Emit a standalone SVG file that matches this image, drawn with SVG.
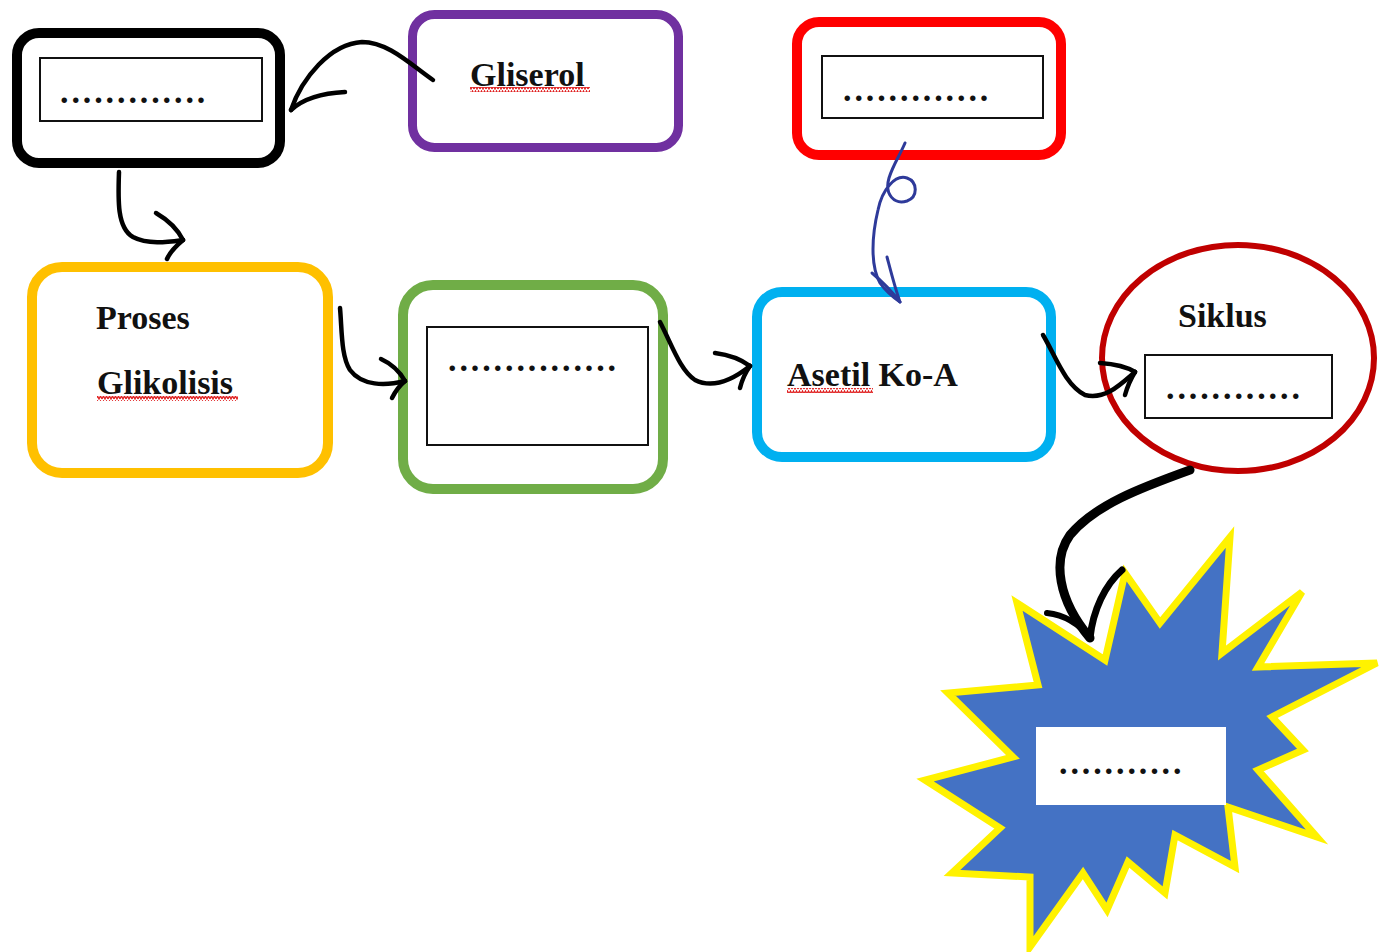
<svg xmlns="http://www.w3.org/2000/svg" width="1389" height="952" viewBox="0 0 1389 952">
<defs>
<pattern id="squig" width="6" height="5" patternUnits="userSpaceOnUse">
<path d="M0,4 L1.5,1 L3,4 L4.5,1 L6,4" fill="none" stroke="#E02020" stroke-width="1.3"/>
</pattern>
<style>
.box{fill:#fff}
.inner{fill:#fff;stroke:#111;stroke-width:2}
.lbl{font-family:"Liberation Serif","Times New Roman",serif;font-weight:bold;font-size:34px;fill:#111}
.dots{font-family:"Liberation Serif","Times New Roman",serif;font-weight:bold;font-size:34px;fill:#111;letter-spacing:2.9px}
.arr{fill:none;stroke:#000;stroke-width:4.5;stroke-linecap:round;stroke-linejoin:round}
</style>
</defs>
<rect width="1389" height="952" fill="#fff"/>

<g id="node-black">
<rect class="box" x="17" y="33" width="263" height="130" rx="22" stroke="#000" stroke-width="10"/>
<rect class="inner" x="40" y="58" width="222" height="63"/>
<text class="dots" x="60" y="103">.............</text>
</g>

<g id="node-gliserol">
<rect class="box" x="412.5" y="14.5" width="266" height="133" rx="22" stroke="#7030A0" stroke-width="9"/>
<text class="lbl" x="470" y="86">Gliserol</text>
<rect x="470" y="87" width="120" height="5" fill="url(#squig)"/>
</g>

<g id="node-red">
<rect class="box" x="797" y="22" width="264" height="133" rx="22" stroke="#F00" stroke-width="10"/>
<rect class="inner" x="822" y="56" width="221" height="62"/>
<text class="dots" x="843" y="101">.............</text>
</g>

<g id="node-glikolisis">
<rect class="box" x="32" y="267" width="296" height="206" rx="30" stroke="#FFC000" stroke-width="10"/>
<text class="lbl" x="96" y="329">Proses</text>
<text class="lbl" x="97" y="394">Glikolisis</text>
<rect x="97" y="396" width="141" height="5" fill="url(#squig)"/>
</g>

<g id="node-green">
<rect class="box" x="403" y="285" width="260" height="204" rx="30" stroke="#70AD47" stroke-width="10"/>
<rect class="inner" x="427" y="327" width="221" height="118"/>
<text class="dots" x="448" y="371">...............</text>
</g>

<g id="node-asetil">
<rect class="box" x="757" y="292" width="294" height="165" rx="25" stroke="#00B0F0" stroke-width="10"/>
<text class="lbl" x="787" y="386">Asetil Ko-A</text>
<rect x="787" y="388" width="86" height="5" fill="url(#squig)"/>
</g>

<g id="node-siklus">
<ellipse cx="1238" cy="358" rx="136" ry="113" fill="#fff" stroke="#C00000" stroke-width="6"/>
<text class="lbl" x="1178" y="327">Siklus</text>
<rect class="inner" x="1145" y="355" width="187" height="63"/>
<text class="dots" x="1166" y="399">............</text>
</g>

<g id="node-star">
<polygon points="1017,603 1105,660 1125,573 1160,623 1230,537 1222,653 1302,592 1258,667 1377,663 1272,717 1303,750 1258,770 1317,837 1228,807 1235,867 1175,835 1165,893 1128,862 1107,910 1083,873 1030,947 1030,877 952,873 1000,828 925,780 1013,757 948,693 1038,685" fill="#4472C4" stroke="#FFF200" stroke-width="7" stroke-linejoin="miter"/>
<rect x="1036" y="727" width="190" height="78" fill="#fff"/>
<text class="dots" x="1059" y="774">...........</text>
</g>

<g id="connectors">
<!-- Gliserol -> black box -->
<path class="arr" d="M433,80 C410,64 388,42 362,42 C330,44 302,78 291,110"/>
<path class="arr" d="M291,110 C304,98 324,93 345,92"/>
<!-- black box -> Proses Glikolisis -->
<path class="arr" d="M119,172 C118,200 117,228 133,237 C148,245 168,242 183,240"/>
<path class="arr" d="M156,213 C168,220 178,230 183,240"/>
<path class="arr" d="M183,240 C176,246 170,252 167,259"/>
<!-- yellow -> green -->
<path class="arr" d="M340,308 C342,330 341,356 350,370 C362,386 385,386 405,381"/>
<path class="arr" d="M381,359 C392,364 400,372 405,381"/>
<path class="arr" d="M405,381 C399,386 395,392 392,398"/>
<!-- green -> blue -->
<path class="arr" d="M660,322 C672,345 680,370 695,380 C715,390 735,378 750,366"/>
<path class="arr" d="M715,353 C730,355 742,360 750,366"/>
<path class="arr" d="M750,366 C745,373 742,380 740,388"/>
<!-- blue -> Siklus -->
<path class="arr" d="M1043,335 C1055,355 1065,385 1085,395 C1105,400 1120,385 1135,372"/>
<path class="arr" d="M1100,363 C1115,364 1127,367 1135,372"/>
<path class="arr" d="M1135,372 C1130,380 1127,388 1125,395"/>
<!-- red box -> Asetil (blue loop) -->
<path d="M905,143 C900,155 893,165 889,178 C884,195 895,205 907,201 C918,197 918,182 907,178 C895,174 882,190 878,210 C872,235 870,265 880,283 C887,293 894,298 900,302" fill="none" stroke="#2E3A9A" stroke-width="3" stroke-linecap="round"/>
<path d="M872,273 C884,283 893,293 900,302 M887,257 C891,272 895,288 900,302" fill="none" stroke="#2E3A9A" stroke-width="3" stroke-linecap="round"/>
<!-- Siklus -> star -->
<path d="M1190,470 C1140,488 1095,505 1070,535 C1052,560 1058,600 1090,638" fill="none" stroke="#000" stroke-width="9" stroke-linecap="round"/>
<path d="M1047,613 C1065,615 1080,625 1090,638" fill="none" stroke="#000" stroke-width="6" stroke-linecap="round"/>
<path d="M1122,570 C1105,585 1093,610 1090,638" fill="none" stroke="#000" stroke-width="7" stroke-linecap="round"/>
</g>
</svg>
